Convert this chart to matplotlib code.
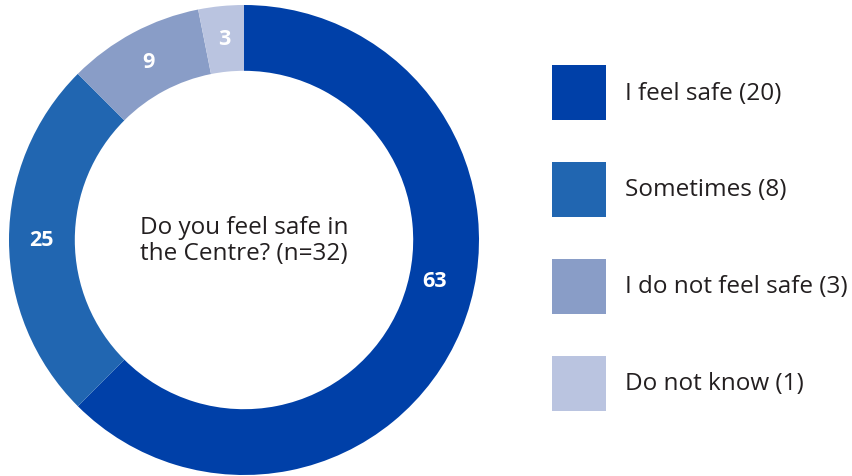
import matplotlib
matplotlib.use("Agg")
import matplotlib.pyplot as plt
from matplotlib.patches import Rectangle
import numpy as np

# Data
categories = ["I feel safe", "Sometimes", "I do not feel safe", "Do not know"]
counts = [20, 8, 3, 1]
percent_labels = ["63", "25", "9", "3"]
colors = ["#0040A8", "#2166B1", "#899DC7", "#BAC4E0"]
center_text = "Do you feel safe in\nthe Centre? (n=32)"

plt.rcParams["font.family"] = ["Open Sans", "DejaVu Sans"]
text_color = "#231F20"

W, H = 852, 477
fig = plt.figure(figsize=(W / 100, H / 100), dpi=100)
ax = fig.add_axes([9 / W, 1 / H, 470 / W, 470 / H])

wedges, _ = ax.pie(
    counts,
    colors=colors,
    startangle=90,
    counterclock=False,
    radius=1.0,
    wedgeprops=dict(width=0.28, linewidth=0),
)

# Value labels in the ring
label_r = 0.86
for i, (w, lab) in enumerate(zip(wedges, percent_labels)):
    ang = np.deg2rad((w.theta1 + w.theta2) / 2)
    r = label_r
    if i == 0:
        ang = np.deg2rad(90 - 102)
        r = 0.83
    ax.text(r * np.cos(ang), r * np.sin(ang), lab,
            ha="center", va="center", color="white",
            fontsize=15.5, fontweight="bold")

ax.text(0, 0.0, center_text, ha="center", va="center",
        multialignment="left", fontsize=17.5, color=text_color,
        linespacing=1.15)
ax.set_xlim(-1, 1)
ax.set_ylim(-1, 1)
ax.set_aspect("equal")

# Legend drawn in its own axes (pixel units, y down)
lax = fig.add_axes([0, 0, 1, 1])
lax.set_xlim(0, W)
lax.set_ylim(H, 0)
lax.axis("off")
row_top = 66
row_step = 97
for i, (c, n, col) in enumerate(zip(categories, counts, colors)):
    y0 = row_top + i * row_step
    lax.add_patch(Rectangle((552, y0), 54, 55, facecolor=col, linewidth=0))
    lax.text(625, y0 + 27.5, f"{c} ({n})", ha="left", va="center",
             fontsize=17.5, color=text_color)

fig.savefig("out.png", dpi=100)
